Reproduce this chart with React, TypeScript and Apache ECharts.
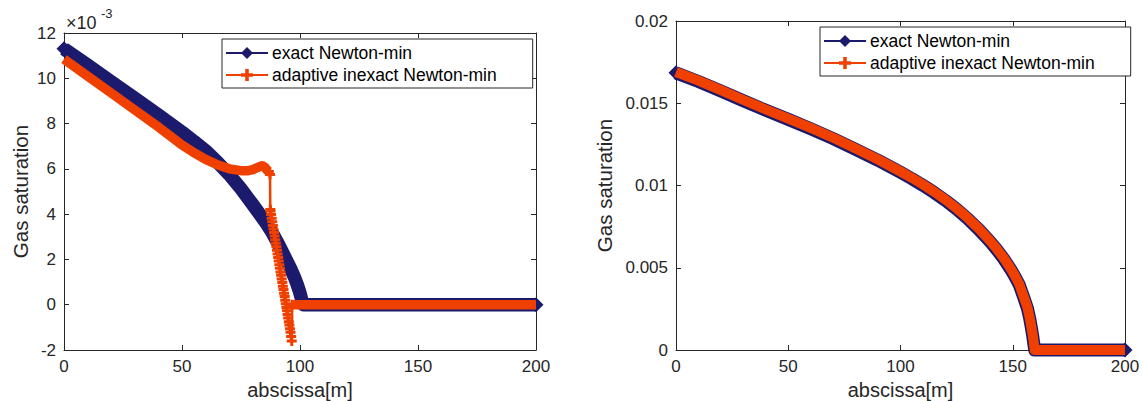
import React, { useEffect, useRef } from "react";
import * as echarts from "echarts";

// ---------------- data ----------------
// Left panel, gas saturation in units of 1e-3
const leftNavyX = [0, 10, 20, 30, 40, 50, 55, 60, 65, 70, 75, 80, 85, 88, 91, 94, 96, 97.5, 98.8, 99.8, 100.6, 101.2, 101.5, 200];
const leftNavyY = [11.3, 10.58, 9.85, 9.12, 8.38, 7.62, 7.22, 6.8, 6.3, 5.75, 5.12, 4.42, 3.7, 3.22, 2.65, 2.02, 1.6, 1.25, 0.9, 0.58, 0.27, 0.06, 0, 0];

const leftOrangeHeadX = [0, 10, 20, 30, 40, 50, 55, 60, 65, 70, 75, 78, 80, 82, 84, 85, 86, 86.8];
const leftOrangeHeadY = [10.85, 10.1, 9.35, 8.6, 7.85, 7.05, 6.72, 6.42, 6.18, 6.0, 5.92, 5.92, 5.97, 6.06, 6.14, 6.08, 5.95, 5.88];

const leftOrangeDropX = [
  86.8, 87.3, 87.4, 87.5, 87.75, 88, 88.25, 88.5, 88.75, 89, 89.25, 89.5, 89.75, 90, 90.25, 90.5, 90.75,
  91, 91.25, 91.5, 91.75, 92, 92.25, 92.5, 92.75, 93, 93.25, 93.5, 93.75, 94, 94.25, 94.5, 94.75,
  95, 95.25, 95.5, 95.75, 96, 96.25, 96.5, 96.7,
];
const leftOrangeDropY = [
  5.88, 5.75, 4.2, 4.14, 3.98, 3.82, 3.66, 3.5, 3.34, 3.19, 3.03, 2.87, 2.71, 2.56, 2.4, 2.24, 2.08,
  1.93, 1.77, 1.61, 1.45, 1.3, 1.14, 0.98, 0.82, 0.67, 0.51, 0.36, 0.2, 0.04, -0.12, -0.27, -0.43,
  -0.59, -0.75, -0.9, -1.06, -1.22, -1.4, -1.6, 0,
];

const leftOrangeTailX = [96.7, 200];
const leftOrangeTailY = [0, 0];

// Right panel, gas saturation
const rightX = [
  0, 10, 20, 30, 40, 50, 60, 70, 80, 90, 100, 105, 110, 115, 120, 125, 130, 135, 140, 143, 146, 149,
  151, 153, 155, 156.5, 157.5, 158.3, 158.9, 159.4, 159.8, 200,
];
const rightOrangeY = [
  0.0169, 0.01637, 0.0158, 0.0152, 0.01462, 0.01407, 0.0135, 0.0129, 0.01225, 0.01158, 0.01085, 0.01047,
  0.01006, 0.00962, 0.00914, 0.00861, 0.00802, 0.00736, 0.00662, 0.00613, 0.00559, 0.00497, 0.0045,
  0.00398, 0.0032, 0.0026, 0.002, 0.0014, 0.0009, 0.0004, 0, 0,
];
const rightNavyY = [
  0.01685, 0.01632, 0.01575, 0.01515, 0.01457, 0.01402, 0.01345, 0.01285, 0.0122, 0.01153, 0.0108, 0.01042,
  0.01001, 0.00957, 0.00909, 0.00856, 0.00797, 0.00731, 0.00657, 0.00608, 0.00554, 0.00492, 0.00445,
  0.00393, 0.00315, 0.00255, 0.00195, 0.00135, 0.00085, 0.00035, 0, 0,
];

const seriesNames = ["exact Newton-min", "adaptive inexact Newton-min"];
const xTicks = { min: 0, max: 200, interval: 50 };
const leftYTicks = { min: -2, max: 12, interval: 2 };
const rightYTicks = { min: 0, max: 0.02, interval: 0.005 };

// ---------------- styling ----------------
const FONT = "'Liberation Sans', Arial, Helvetica, sans-serif";
const AX = "#262626";
const NAVY = "#1b1a6d";
const ORANGE = "#f04000";
const PLUS = "path://M3.5,0 H6.5 V3.5 H10 V6.5 H6.5 V10 H3.5 V6.5 H0 V3.5 H3.5 Z";

const zip = (xs: number[], ys: number[]) => xs.map((x, i) => [x, ys[i]]);

function axisBase(gridIndex: number, position: string, showLabel: boolean) {
  return {
    gridIndex,
    type: "value",
    position,
    axisLine: { show: true, onZero: false, lineStyle: { color: AX, width: 1 } },
    axisTick: { show: true, inside: true, length: 5, lineStyle: { color: AX, width: 1 } },
    axisLabel: { show: showLabel, color: AX, fontSize: 17, fontFamily: FONT, margin: 8 },
    splitLine: { show: false },
  };
}

function xAxes(gridIndex: number) {
  return [
    {
      ...axisBase(gridIndex, "bottom", true),
      ...xTicks,
      name: "abscissa[m]",
      nameLocation: "middle",
      nameGap: 29,
      nameTextStyle: { color: AX, fontSize: 20, fontFamily: FONT, lineHeight: 20 },
    },
    { ...axisBase(gridIndex, "top", false), ...xTicks },
  ];
}

function yAxes(gridIndex: number, ticks: any, nameGap: number) {
  return [
    {
      ...axisBase(gridIndex, "left", true),
      ...ticks,
      name: "Gas saturation",
      nameLocation: "middle",
      nameGap,
      nameTextStyle: { color: AX, fontSize: 20.5, fontFamily: FONT },
    },
    { ...axisBase(gridIndex, "right", false), ...ticks },
  ];
}

function legend(left: number, top: number) {
  return {
    left,
    top,
    orient: "vertical",
    data: seriesNames,
    backgroundColor: "#ffffff",
    borderColor: AX,
    borderWidth: 1,
    borderRadius: 0,
    padding: [5, 36, 4, 3],
    itemGap: 4,
    itemWidth: 42,
    itemHeight: 15,
    selectedMode: false,
    textStyle: { color: "#000", fontSize: 17.5, fontFamily: FONT, padding: [0, 0, 0, -1] },
  };
}

export default function App() {
  const ref = useRef<HTMLDivElement>(null);
  useEffect(() => {
    if (!ref.current) return;
    const chart = echarts.init(ref.current, undefined, { renderer: "svg" });
    const lastIdx = (arr: number[]) => arr.length - 1;
    const endDiamond = (n: number, size: number) => (_v: any, p: any) =>
      p.dataIndex === 0 || p.dataIndex === n ? size : 0;

    const option: any = {
      animation: false,
      backgroundColor: "#ffffff",
      grid: [
        { left: 64, top: 33, width: 472, height: 317, containLabel: false, outerBoundsMode: "none" },
        { left: 676, top: 21, width: 449, height: 329, containLabel: false, outerBoundsMode: "none" },
      ],
      xAxis: [...xAxes(0), ...xAxes(1)],
      yAxis: [...yAxes(0, leftYTicks, 33), ...yAxes(1, rightYTicks, 61)],
      legend: [legend(222, 39), legend(820, 27)],
      graphic: [
        {
          type: "text",
          left: 66,
          top: 14,
          style: { text: "×10", fill: AX, fontSize: 18, fontFamily: FONT },
        },
        {
          type: "text",
          left: 101,
          top: 7,
          style: { text: "-3", fill: AX, fontSize: 13, fontFamily: FONT },
        },
      ],
      series: [
        // ---- left panel ----
        {
          name: seriesNames[0],
          type: "line",
          xAxisIndex: 0,
          yAxisIndex: 0,
          data: zip(leftNavyX, leftNavyY),
          clip: false,
          showAllSymbol: true,
          symbol: "diamond",
          symbolSize: endDiamond(lastIdx(leftNavyX), 15),
          itemStyle: { color: NAVY },
          lineStyle: { color: NAVY, width: 13.5, join: "round" },
          z: 2,
        },
        {
          name: seriesNames[1],
          type: "line",
          xAxisIndex: 0,
          yAxisIndex: 0,
          data: zip(leftOrangeDropX, leftOrangeDropY),
          clip: false,
          showAllSymbol: true,
          symbol: PLUS,
          symbolSize: 10,
          itemStyle: { color: ORANGE },
          lineStyle: { color: ORANGE, width: 2.5 },
          z: 3,
        },
        {
          name: seriesNames[1],
          type: "line",
          xAxisIndex: 0,
          yAxisIndex: 0,
          data: zip(leftOrangeHeadX, leftOrangeHeadY),
          clip: false,
          symbol: "none",
          itemStyle: { color: ORANGE },
          lineStyle: { color: ORANGE, width: 9.5, join: "round" },
          z: 3,
        },
        {
          name: seriesNames[1],
          type: "line",
          xAxisIndex: 0,
          yAxisIndex: 0,
          data: zip(leftOrangeTailX, leftOrangeTailY),
          clip: false,
          symbol: "none",
          itemStyle: { color: ORANGE },
          lineStyle: { color: ORANGE, width: 9.5 },
          z: 3,
        },
        // ---- right panel ----
        {
          name: seriesNames[0],
          type: "line",
          xAxisIndex: 2,
          yAxisIndex: 2,
          data: zip(rightX, rightNavyY),
          clip: false,
          showAllSymbol: true,
          symbol: "diamond",
          symbolSize: endDiamond(lastIdx(rightX), 15),
          itemStyle: { color: NAVY },
          lineStyle: { color: NAVY, width: 13, join: "round" },
          z: 2,
        },
        {
          name: seriesNames[1],
          type: "line",
          xAxisIndex: 2,
          yAxisIndex: 2,
          data: zip(rightX, rightOrangeY),
          clip: false,
          symbol: "none",
          itemStyle: { color: ORANGE },
          lineStyle: { color: ORANGE, width: 10, join: "round" },
          z: 3,
        },
      ],
    };
    chart.setOption(option);
    return () => chart.dispose();
  }, []);

  return (
    <div
      style={{
        position: "fixed",
        left: 0,
        top: 0,
        width: 1142,
        height: 401,
        overflow: "hidden",
        background: "#fff",
      }}
    >
      <div ref={ref} style={{ width: 1142, height: 401, overflow: "hidden" }} />
    </div>
  );
}
